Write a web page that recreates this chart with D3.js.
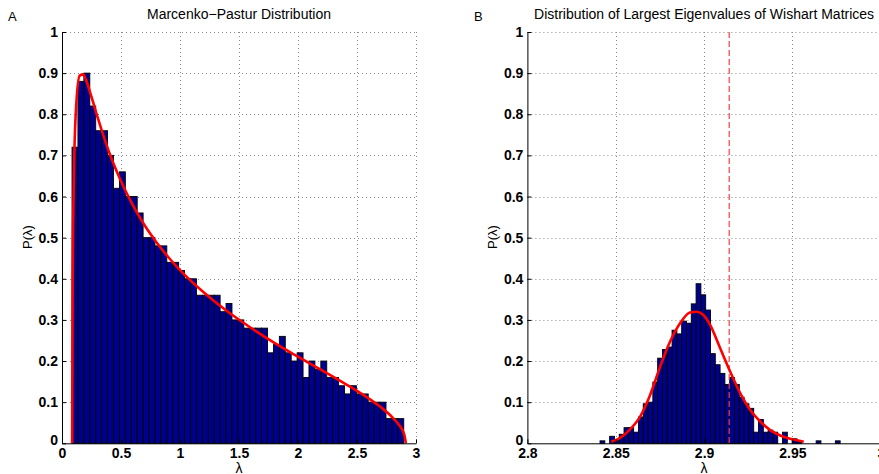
<!DOCTYPE html>
<html>
<head>
<meta charset="utf-8">
<script src="https://cdn.jsdelivr.net/npm/d3@7"></script>
<style>
body { margin: 0; background: #fff; }
svg { display: block; font-family: "Liberation Sans", Arial, Helvetica, sans-serif; }
.tick text { font-weight: bold; font-size: 14px; fill: #000; }
.grid line { stroke: #8a8a8a; stroke-width: 1; stroke-dasharray: 1 3; }
</style>
</head>
<body>
<div id="chartDiv"></div>
<script>
// panel A: histogram of eigenvalues (56 bins) + Marcenko-Pastur curve
var mpBinStart = 0.085;
var mpBinWidth = 0.0502;
var mpHeights = [0.72, 0.88, 0.90, 0.82, 0.76, 0.76, 0.70, 0.62, 0.66, 0.60,
	0.60, 0.56, 0.50, 0.50, 0.48, 0.48, 0.44, 0.44, 0.42, 0.40,
	0.40, 0.36, 0.36, 0.36, 0.36, 0.32, 0.34, 0.30, 0.30, 0.28,
	0.28, 0.28, 0.28, 0.22, 0.24, 0.26, 0.22, 0.20, 0.22, 0.16,
	0.20, 0.18, 0.20, 0.16, 0.16, 0.14, 0.12, 0.14, 0.12, 0.12,
	0.10, 0.10, 0.10, 0.06, 0.06, 0.06];
var mpCurveX = [0.0858, 0.09, 0.10, 0.12, 0.15, 0.18, 0.20, 0.25, 0.30, 0.40, 0.50, 0.60, 0.70, 0.80, 0.90,
	1.0, 1.2, 1.4, 1.6, 1.8, 2.0, 2.2, 2.4, 2.6, 2.7, 2.8, 2.85, 2.9, 2.9142];
var mpCurveY = [0, 0.385, 0.636, 0.820, 0.894, 0.897, 0.886, 0.842, 0.794, 0.707, 0.637, 0.579, 0.530, 0.489, 0.453,
	0.421, 0.367, 0.321, 0.281, 0.244, 0.2105, 0.178, 0.1446, 0.1088, 0.0882, 0.0632, 0.047, 0.0219, 0];

// panel B: largest eigenvalues (50 bins) + fitted curve + edge marker
var twBinStart = 2.8411;
var twBinWidth = 0.002718;
var twHeights = [0.006, 0, 0.017, 0.008, 0.022, 0.038, 0.038, 0.027, 0.064, 0.096,
	0.100, 0.149, 0.207, 0.228, 0.234, 0.275, 0.266, 0.297, 0.292, 0.339,
	0.388, 0.361, 0.324, 0.218, 0.191, 0.170, 0.143, 0.160, 0.143, 0.112,
	0.096, 0.085, 0.027, 0.058, 0.027, 0.032, 0.027, 0, 0.027, 0,
	0.011, 0.006, 0, 0, 0, 0.006, 0, 0, 0, 0.006];
var twCurveX = [2.8475, 2.8496, 2.8581, 2.8638, 2.8694, 2.8751, 2.8807, 2.8864, 2.8920, 2.8959, 2.8996,
	2.9034, 2.9091, 2.9148, 2.9204, 2.9261, 2.9318, 2.9374, 2.9431, 2.9488, 2.9564];
var twCurveY = [0.004, 0.007, 0.034, 0.065, 0.117, 0.186, 0.247, 0.292, 0.318, 0.320, 0.312,
	0.288, 0.231, 0.174, 0.122, 0.081, 0.053, 0.032, 0.019, 0.011, 0.004];
var twEdge = 2.9142;

var yTicks = [0, 0.1, 0.2, 0.3, 0.4, 0.5, 0.6, 0.7, 0.8, 0.9, 1];
var xTicksA = [0, 0.5, 1, 1.5, 2, 2.5, 3];
var xTicksB = [2.8, 2.85, 2.9, 2.95, 3];

var W = 879, H = 474;
var svg = d3.select("#chartDiv").append("svg").attr("width", W).attr("height", H);

var y = d3.scaleLinear().domain([0, 1]).range([443.3, 32]);
var fmt = d3.format("~g");

function drawPanel(opts) {
	var x = opts.x;
	var g = svg.append("g");
	var x0 = x.range()[0], x1 = x.range()[1];

	// dotted grid, under the bars
	var grid = g.append("g").attr("class", "grid");
	grid.selectAll(".gy").data(yTicks.slice(1)).enter().append("line")
		.attr("x1", x0).attr("x2", x1)
		.attr("y1", function(d) { return Math.round(y(d)) + 0.5; })
		.attr("y2", function(d) { return Math.round(y(d)) + 0.5; });
	grid.selectAll(".gx").data(opts.xTicks.slice(1)).enter().append("line")
		.attr("y1", y(1)).attr("y2", y(0))
		.attr("x1", function(d) { return Math.round(x(d)) + 0.5; })
		.attr("x2", function(d) { return Math.round(x(d)) + 0.5; });

	// bars, keeping empty bins in their slot
	var bins = opts.heights.map(function(h, i) {
		return { x0: opts.binStart + i * opts.binWidth, x1: opts.binStart + (i + 1) * opts.binWidth, h: h };
	}).filter(function(b) { return b.h > 0; });
	g.append("g").selectAll("rect").data(bins).enter().append("rect")
		.attr("x", function(d) { return x(d.x0); })
		.attr("width", function(d) { return x(d.x1) - x(d.x0); })
		.attr("y", function(d) { return y(d.h); })
		.attr("height", function(d) { return y(0) - y(d.h); })
		.attr("fill", "#00008f").attr("stroke", "#000").attr("stroke-width", 0.9);

	if (opts.edge !== undefined) {
		g.append("line")
			.attr("x1", x(opts.edge)).attr("x2", x(opts.edge))
			.attr("y1", y(1)).attr("y2", y(0))
			.attr("stroke", "#f04040").attr("stroke-width", 1.2)
			.attr("stroke-dasharray", "6 3");
	}

	var pts = opts.cx.map(function(v, i) { return [v, opts.cy[i]]; });
	g.append("path").datum(pts)
		.attr("d", d3.line().x(function(d) { return x(d[0]); }).y(function(d) { return y(d[1]); })
			.curve(d3.curveMonotoneX))
		.attr("fill", "none").attr("stroke", "#ff0000").attr("stroke-width", 2.6);

	var ax = g.append("g").attr("transform", "translate(" + x0 + ",0)")
		.call(d3.axisLeft(y).tickValues(yTicks).tickFormat(fmt).tickSizeInner(-4).tickSizeOuter(0).tickPadding(4));
	var bx = g.append("g").attr("transform", "translate(0," + y(0) + ")")
		.call(d3.axisBottom(x).tickValues(opts.xTicks).tickFormat(fmt).tickSizeInner(-4).tickSizeOuter(0).tickPadding(5));
	[ax, bx].forEach(function(a) {
		a.select(".domain").attr("stroke", "#000");
		a.selectAll(".tick line").attr("stroke", "#000");
		a.selectAll(".tick text").attr("font-family", null).attr("font-size", null);
	});
	ax.selectAll(".tick").filter(function(d) { return d === 0; }).select("text").attr("dy", "0.05em");

	var mid = (x0 + x1) / 2;
	g.append("text").attr("x", mid).attr("y", 19).attr("text-anchor", "middle")
		.attr("font-size", 14).text(opts.title);
	g.append("text").attr("x", mid).attr("y", 473).attr("text-anchor", "middle")
		.attr("font-size", 14).text("λ");
	g.append("text").attr("transform", "translate(" + (x0 - 30) + ",237) rotate(-90)")
		.attr("text-anchor", "middle").attr("font-size", 13).text("P(λ)");
	g.append("text").attr("x", opts.letterX).attr("y", 21).attr("font-size", 13).text(opts.letter);
}

drawPanel({
	x: d3.scaleLinear().domain([0, 3]).range([62, 416]),
	xTicks: xTicksA, heights: mpHeights, binStart: mpBinStart, binWidth: mpBinWidth,
	cx: mpCurveX, cy: mpCurveY, title: "Marcenko\u2212Pastur Distribution",
	letter: "A", letterX: 8
});
drawPanel({
	x: d3.scaleLinear().domain([2.8, 3]).range([527.4, 880.8]),
	xTicks: xTicksB, heights: twHeights, binStart: twBinStart, binWidth: twBinWidth,
	cx: twCurveX, cy: twCurveY, edge: twEdge,
	title: "Distribution of Largest Eigenvalues of Wishart Matrices",
	letter: "B", letterX: 474
});
</script>
</body>
</html>
